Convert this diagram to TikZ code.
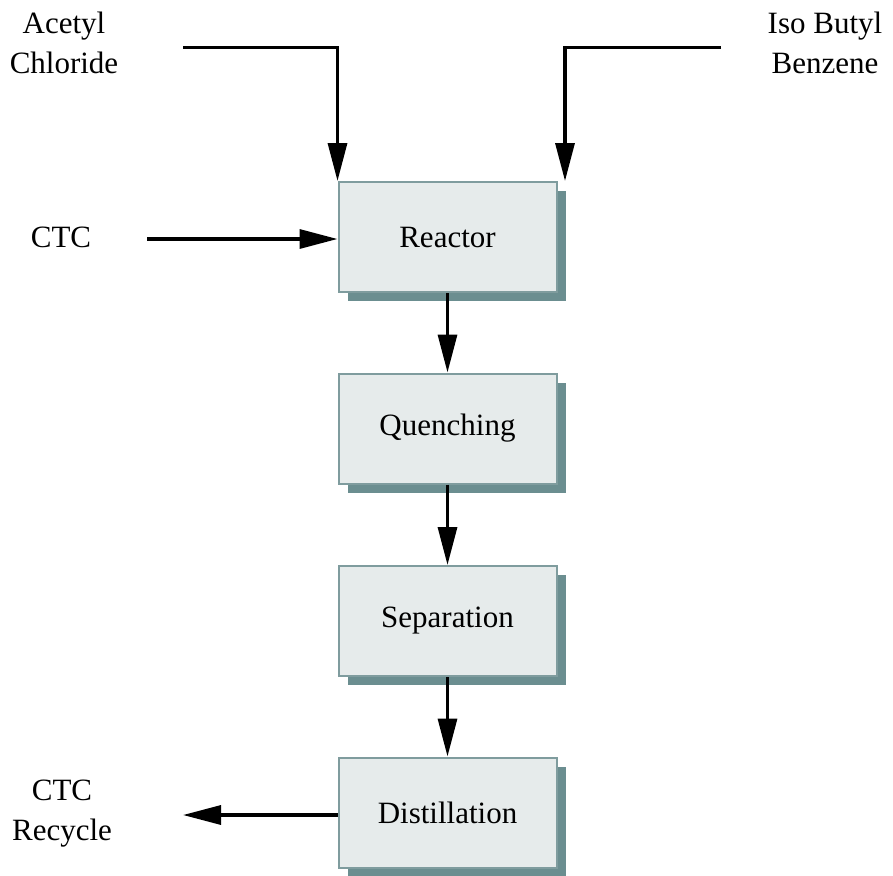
\documentclass[tikz,border=0pt]{standalone}
\usepackage{fontspec}
\setmainfont{Liberation Serif}
\usetikzlibrary{arrows.meta,shadows}
\definecolor{boxfill}{HTML}{E6EBEB}
\definecolor{boxedge}{HTML}{7F9C9E}
\definecolor{boxshade}{HTML}{6B8E90}
\tikzset{
  unit/.style={draw=boxedge, line width=2pt, fill=boxfill,
    minimum width=218pt, minimum height=110pt, inner sep=0pt,
    general shadow={fill=boxshade, shadow xshift=9pt, shadow yshift=-9pt}},
  label/.style={align=center, inner sep=0pt},
  flow/.style={line width=3.3pt, -{Triangle[length=38pt,width=19pt]}},
}
\begin{document}
\begin{tikzpicture}[x=1pt, y=-1pt, font=\fontsize{31}{40}\selectfont]
\useasboundingbox (0,0) rectangle (893,875);

% process units
\node[unit] (reactor)    at (447.5,237)   {Reactor};
\node[unit] (quench)     at (447.5,428.5) {Quenching};
\node[unit] (separation) at (447.5,621)   {Separation};
\node[unit] (distill)    at (447.5,812.5) {Distillation};

% stream labels
\node[label] (acetyl)  at (64,43)    {Acetyl\\Chloride};
\node[label] (ibb)     at (825,43)   {Iso Butyl\\Benzene};
\node[label] (ctc)     at (61,237)   {CTC};
\node[label] (recycle) at (62,813.5) {CTC\\Recycle};

% free ends of the feed and product lines
\coordinate (acStart)  at (183,47.5);
\coordinate (ibStart)  at (721,47.5);
\coordinate (ibEnd)    at (565,181);
\coordinate (ctcStart) at (147,239);
\coordinate (recEnd)   at (183,815);

% feeds
\draw[flow] (acStart) -| (reactor.north west);
\draw[flow] (ibStart) -| (ibEnd);
\draw[flow] (ctcStart) -- (ctcStart -| reactor.west);

% main train
\draw[flow] (reactor.south)    -- (quench.north);
\draw[flow] (quench.south)     -- (separation.north);
\draw[flow] (separation.south) -- (distill.north);

% recycle
\draw[flow] (distill.west |- recEnd) -- (recEnd);
\end{tikzpicture}
\end{document}
